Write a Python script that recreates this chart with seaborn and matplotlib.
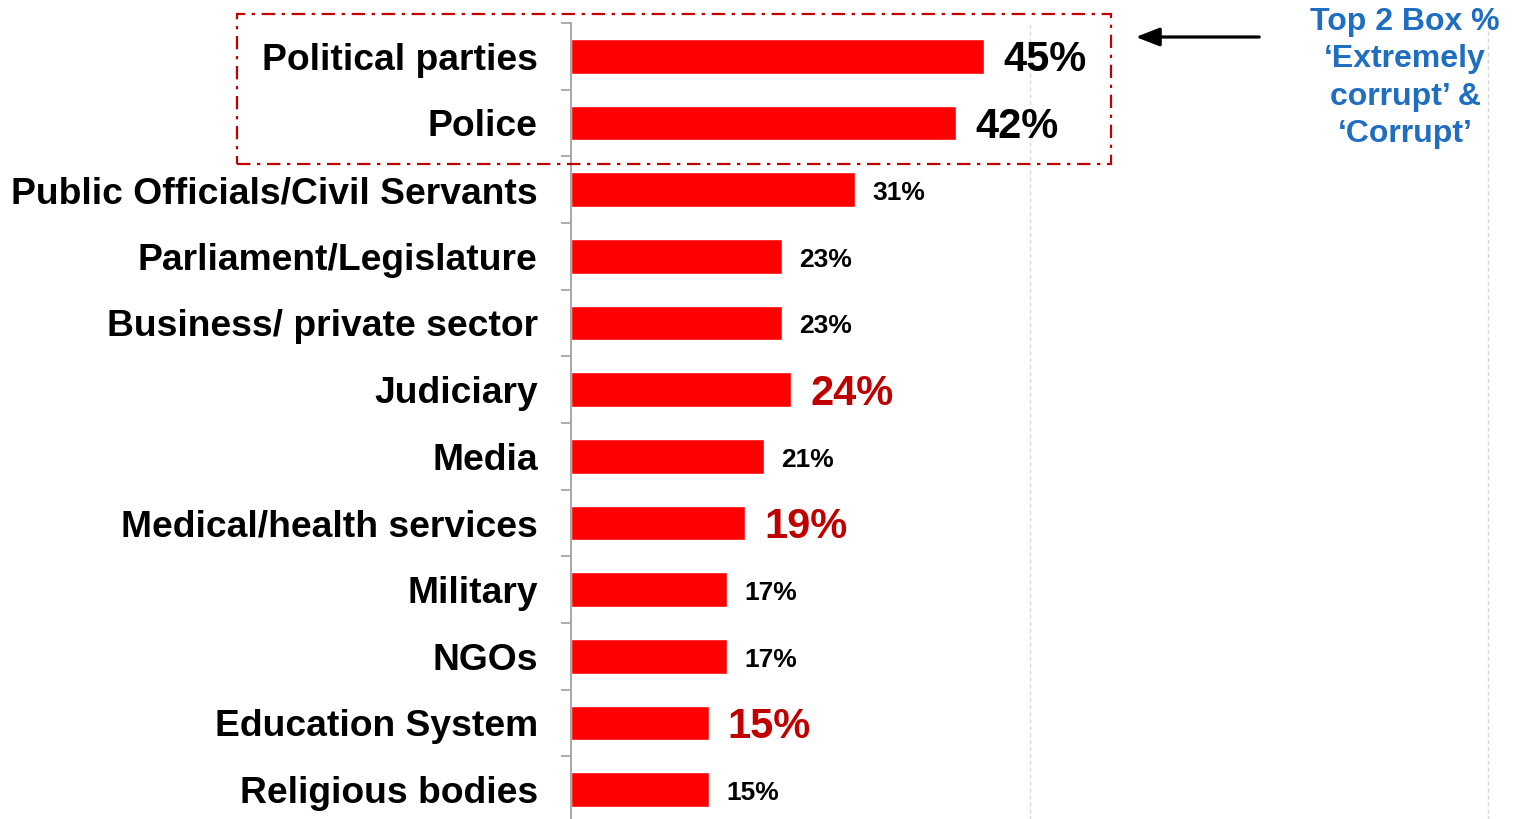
import matplotlib
matplotlib.use("Agg")
import matplotlib.pyplot as plt
import matplotlib.patches as mpatches
import numpy as np
import pandas as pd
import seaborn as sns

categories = [
    "Political parties", "Police", "Public Officials/Civil Servants",
    "Parliament/Legislature", "Business/ private sector", "Judiciary",
    "Media", "Medical/health services", "Military", "NGOs",
    "Education System", "Religious bodies",
]
values = [45, 42, 31, 23, 23, 24, 21, 19, 17, 17, 15, 15]
# label style per bar: "big" = large black, "hi" = large dark red, "small" = regular
label_kind = ["big", "big", "small", "small", "small", "hi",
              "small", "hi", "small", "small", "hi", "small"]

df = pd.DataFrame({"category": categories, "value": values})

sns.set_theme(style="white")
plt.rcParams["font.family"] = ["Liberation Sans", "DejaVu Sans"]

W, H = 1516, 819
fig = plt.figure(figsize=(W / 100, H / 100), dpi=100)
ax_left, ax_top, ax_bottom = 571, 23, 823
x_max = 102
px_per_unit = 9.17
ax = fig.add_axes([ax_left / W, (H - ax_bottom) / H,
                   x_max * px_per_unit / W, (ax_bottom - ax_top) / H])

sns.barplot(data=df, y="category", x="value", orient="h", color="#FF0000",
            saturation=1, width=0.52, ax=ax)

ax.set_xlim(0, x_max)
ax.set_ylim(len(categories) - 0.5, -0.5)
ax.set_xlabel("")
ax.set_ylabel("")
ax.set_xticks([50, 100])
ax.set_xticklabels([])
ax.tick_params(axis="x", length=0)
ax.grid(axis="x", color="#D9D9D9", linestyle=(0, (3, 2)), linewidth=1.0)
ax.set_axisbelow(True)

for s in ["top", "right", "bottom"]:
    ax.spines[s].set_visible(False)
ax.spines["left"].set_color("#A0A0A0")
ax.spines["left"].set_linewidth(1.3)

ax.tick_params(axis="y", which="major", left=False, length=0, pad=24,
               labelsize=26.8, labelcolor="black")
for t in ax.get_yticklabels():
    t.set_fontweight("bold")
ax.set_yticks(np.arange(len(categories) + 1) - 0.5, minor=True)
ax.tick_params(axis="y", which="minor", left=True, length=7.5, width=1.2,
               color="#A0A0A0", direction="out")

# value labels
for i, (v, kind) in enumerate(zip(values, label_kind)):
    if kind in ("big", "hi"):
        ax.text(v + 2.1, i + 0.06, f"{v}%", va="center", ha="left",
                fontsize=30, fontweight="bold",
                color="black" if kind == "big" else "#C00000")
    else:
        ax.text(v + 1.9, i + 0.05, f"{v}%", va="center", ha="left",
                fontsize=19, fontweight="bold", color="black")

# dash-dot frame around the top two rows
x0, y0, x1, y1 = 237, 14, 1111, 164
frame = mpatches.Rectangle((x0 / W, 1 - y1 / H), (x1 - x0) / W, (y1 - y0) / H,
                           transform=fig.transFigure, fill=False,
                           edgecolor="#C00000", linewidth=1.6,
                           linestyle=(0, (6, 3, 1.5, 3)))
fig.add_artist(frame)

# arrow pointing at the frame
fig.add_artist(mpatches.FancyArrowPatch(
    (1262 / W, 1 - 37 / H), (1133 / W, 1 - 37 / H),
    transform=fig.transFigure, arrowstyle="-|>,head_length=9,head_width=3.5",
    mutation_scale=1.6, color="black", linewidth=2.3))

fig.text(1405 / W, 1 - 78 / H,
         "Top 2 Box %\n\u2018Extremely\ncorrupt\u2019 &\n\u2018Corrupt\u2019",
         ha="center", va="center", fontsize=23, fontweight="bold",
         color="#1F6EC2", linespacing=1.33)

fig.savefig("out.png", dpi=100)
